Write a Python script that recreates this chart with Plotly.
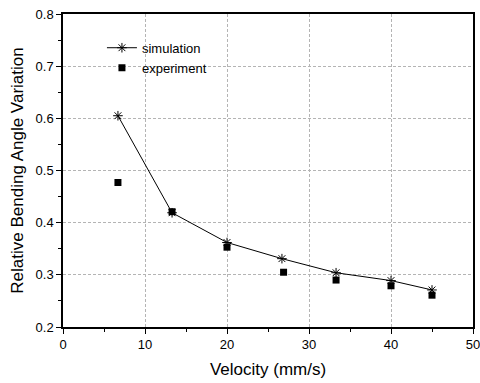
import plotly.graph_objects as go

velocity = [6.7, 13.3, 20.0, 26.7, 33.3, 40.0, 45.0]
simulation = [0.605, 0.419, 0.362, 0.331, 0.304, 0.289, 0.271]
exp_velocity = [6.7, 13.3, 20.0, 26.9, 33.3, 40.0, 45.0]
experiment = [0.477, 0.421, 0.353, 0.305, 0.290, 0.279, 0.261]

fig = go.Figure()
fig.add_trace(go.Scatter(
    x=velocity, y=simulation, mode="lines+markers", name="simulation",
    line=dict(color="black", width=1),
    marker=dict(symbol="asterisk-open", size=8, color="black", line=dict(color="black", width=1)),
))
fig.add_trace(go.Scatter(
    x=exp_velocity, y=experiment, mode="markers", name="experiment",
    marker=dict(symbol="square", size=7, color="black"),
))

axis_common = dict(
    showline=True, linecolor="black", linewidth=1.5, mirror=True,
    ticks="outside", ticklen=5, tickwidth=1, tickcolor="black",
    showgrid=True, gridcolor="#b4b4b4", griddash="3px,2px", gridwidth=1,
    zeroline=False, automargin=False, ticklabeloverflow="allow",
    tickfont=dict(family="Liberation Sans, Arial", size=13, color="black"),
    title_font=dict(family="Liberation Sans, Arial", size=17, color="black"),
)

fig.update_xaxes(
    range=[0, 50], dtick=10, tick0=0,
    title_text="Velocity (mm/s)", title_standoff=12,
    minor=dict(dtick=5, ticklen=3, tickcolor="black", ticks="outside", showgrid=False),
    **axis_common,
)
fig.update_yaxes(
    range=[0.2, 0.8], dtick=0.1, tick0=0.2, tickformat=".1f",
    title_text="Relative Bending Angle Variation", title_standoff=8,
    minor=dict(dtick=0.05, ticklen=3, tickcolor="black", ticks="outside", showgrid=False),
    **axis_common,
)

fig.update_layout(
    width=480, height=383,
    margin=dict(l=63, r=7, t=14, b=56),
    plot_bgcolor="white", paper_bgcolor="white",
    font=dict(family="Liberation Sans, Arial", size=13, color="black"),
    legend=dict(x=0.095, y=0.94, xanchor="left", yanchor="top",
                bgcolor="rgba(0,0,0,0)", font=dict(size=13),
                itemwidth=30, tracegroupgap=0),
    showlegend=True,
)

fig.write_html("out.html")
